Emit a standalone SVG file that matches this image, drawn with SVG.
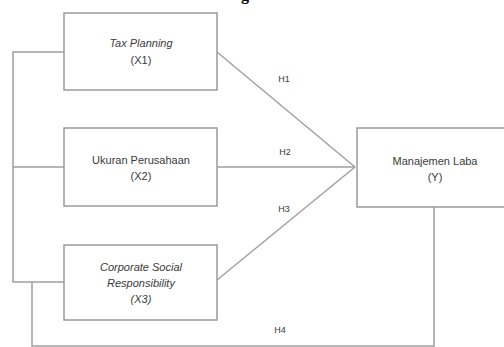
<svg xmlns="http://www.w3.org/2000/svg" width="504" height="347" viewBox="0 0 504 347">
<style>
.box{fill:#fff;stroke:#9a9a9a;stroke-width:1.5}
.ln{fill:none;stroke:#a0a0a0;stroke-width:1.5}
text{font-family:"Liberation Sans",Arial,sans-serif;font-size:11px;fill:#3a3a3a;text-anchor:middle}
.it{font-style:italic}
.lbl{font-size:9px}
</style>
<rect width="504" height="347" fill="#fff"/>
<text x="245" y="0" style="font-family:'Liberation Serif',serif;font-size:16px;font-weight:bold;fill:#000">g</text>
<g id="connectors">
<polyline class="ln" points="64,52 13,52 13,282 64,282"/>
<line class="ln" x1="13" y1="167" x2="64" y2="167"/>
<polyline class="ln" points="32,282 32,346 434,346 434,207"/>
<line class="ln" x1="217" y1="52" x2="355" y2="167"/>
<line class="ln" x1="217" y1="167" x2="355" y2="167"/>
<line class="ln" x1="217" y1="280" x2="355" y2="167"/>
<text class="lbl" x="284" y="82">H1</text>
<text class="lbl" x="285" y="155">H2</text>
<text class="lbl" x="284" y="212">H3</text>
<text class="lbl" x="280" y="333">H4</text>
</g>
<g id="x1">
<rect class="box" x="64" y="13" width="153" height="77"/>
<text class="it" x="141" y="47">Tax Planning</text>
<text x="141" y="64">(X1)</text>
</g>
<g id="x2">
<rect class="box" x="64" y="128" width="153" height="78"/>
<text x="141" y="164">Ukuran Perusahaan</text>
<text x="141" y="180">(X2)</text>
</g>
<g id="x3">
<rect class="box" x="64" y="245" width="153" height="75"/>
<text class="it" x="141" y="271">Corporate Social</text>
<text class="it" x="141" y="287">Responsibility</text>
<text class="it" x="141" y="303">(X3)</text>
</g>
<g id="y">
<rect class="box" x="357" y="128" width="160" height="79"/>
<text x="435" y="165">Manajemen Laba</text>
<text x="435" y="181">(Y)</text>
</g>
</svg>
